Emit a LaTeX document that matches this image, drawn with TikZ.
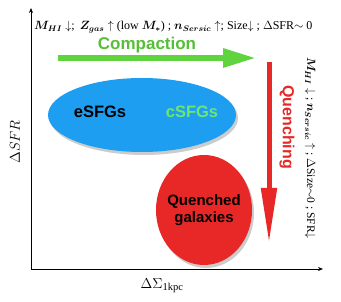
\documentclass[tikz,border=0pt]{standalone}
\usepackage{amsmath,amssymb}
\usepackage{fontspec}
\setmainfont{Liberation Serif}
\setsansfont{Liberation Sans}
\usepackage{tikz}
\usetikzlibrary{shapes.geometric, arrows.meta, positioning, shadows}

\definecolor{sfblue}{RGB}{30,158,240}
\definecolor{qred}{RGB}{232,40,38}
\definecolor{cgreen}{RGB}{96,212,62}
\definecolor{clight}{RGB}{110,230,110}

\begin{document}
\begin{tikzpicture}[
    x=1pt, y=1pt,
    blob/.style={ellipse, draw=none, fill=#1, drop shadow={shadow xshift=2pt, shadow yshift=-3pt, opacity=0.4}},
    tag/.style={font=\sffamily\bfseries\fontsize{15}{17}\selectfont, align=center},
    flow/.style={line width=#1, -{Triangle[length=33pt, width=18pt]}},
    axis/.style={thick, -{Stealth[length=5pt, width=4pt]}},
    note/.style={font=\fontsize{12}{14}\selectfont, inner sep=1pt},
  ]
  \useasboundingbox (0,0) rectangle (341,302);

  % Axes
  \coordinate (orig) at (31,33);
  \coordinate (ytop) at (31,294);
  \coordinate (xend) at (323,33);
  \draw[axis] (orig) -- (ytop);
  \draw[axis] (orig) -- (xend);
  \node[rotate=90, font=\fontsize{15}{17}\selectfont] (ylab) at (15,160) {$\Delta SFR$};
  \node[font=\fontsize{15}{17}\selectfont] (xlab) at (162,16) {$\Delta\Sigma_{\mathrm{1kpc}}$};

  % Populations
  \node[blob=sfblue, minimum width=188pt, minimum height=74pt] (sfg) at (142,187) {};
  \node[tag, font=\sffamily\bfseries\fontsize{16.5}{18}\selectfont] (esfg) at (100,190) {eSFGs};
  \node[tag, text=clight, font=\sffamily\bfseries\fontsize{16.5}{18}\selectfont] (csfg) at (192,190) {cSFGs};
  \node[blob=qred, minimum width=96pt, minimum height=110pt] (qg) at (204,92) {};
  \node[tag] (qlab) at (qg.center) {Quenched\\galaxies};

  % Compaction
  \coordinate (cstart) at (58,244);
  \coordinate (cend) at (256,244);
  \draw[flow=6pt, cgreen] (cstart) -- (cend);
  \node[tag, text=cgreen!90!black, font=\sffamily\bfseries\fontsize{17}{19}\selectfont] (comp) at (147,257) {Compaction};
  \node[note, anchor=west] (topnote) at (33,275)
    {$\boldsymbol{M_{HI}}\downarrow$;\, $\boldsymbol{Z_{gas}}\uparrow$ (low $\boldsymbol{M_*}$) ; $\boldsymbol{n_{Sersic}}\uparrow$; Size$\downarrow$ ; $\Delta$SFR$\sim$ 0};

  % Quenching
  \coordinate (qstart) at (269,240);
  \coordinate (qend) at (269,59);
  \draw[flow=5pt, qred, -{Triangle[length=55pt, width=15pt]}] (qstart) -- (qend);
  \node[tag, text=qred, rotate=-90, font=\sffamily\bfseries\fontsize{16}{18}\selectfont] (quench) at (287,175) {Quenching};
  \node[note, rotate=-90, font=\fontsize{11.5}{13}\selectfont] (sidenote) at (310,154)
    {$\boldsymbol{M_{HI}}\downarrow$ ; $\boldsymbol{n_{Sersic}}\uparrow$ ; $\Delta$Size$\sim$0 ; SFR$\downarrow$};

\end{tikzpicture}
\end{document}
